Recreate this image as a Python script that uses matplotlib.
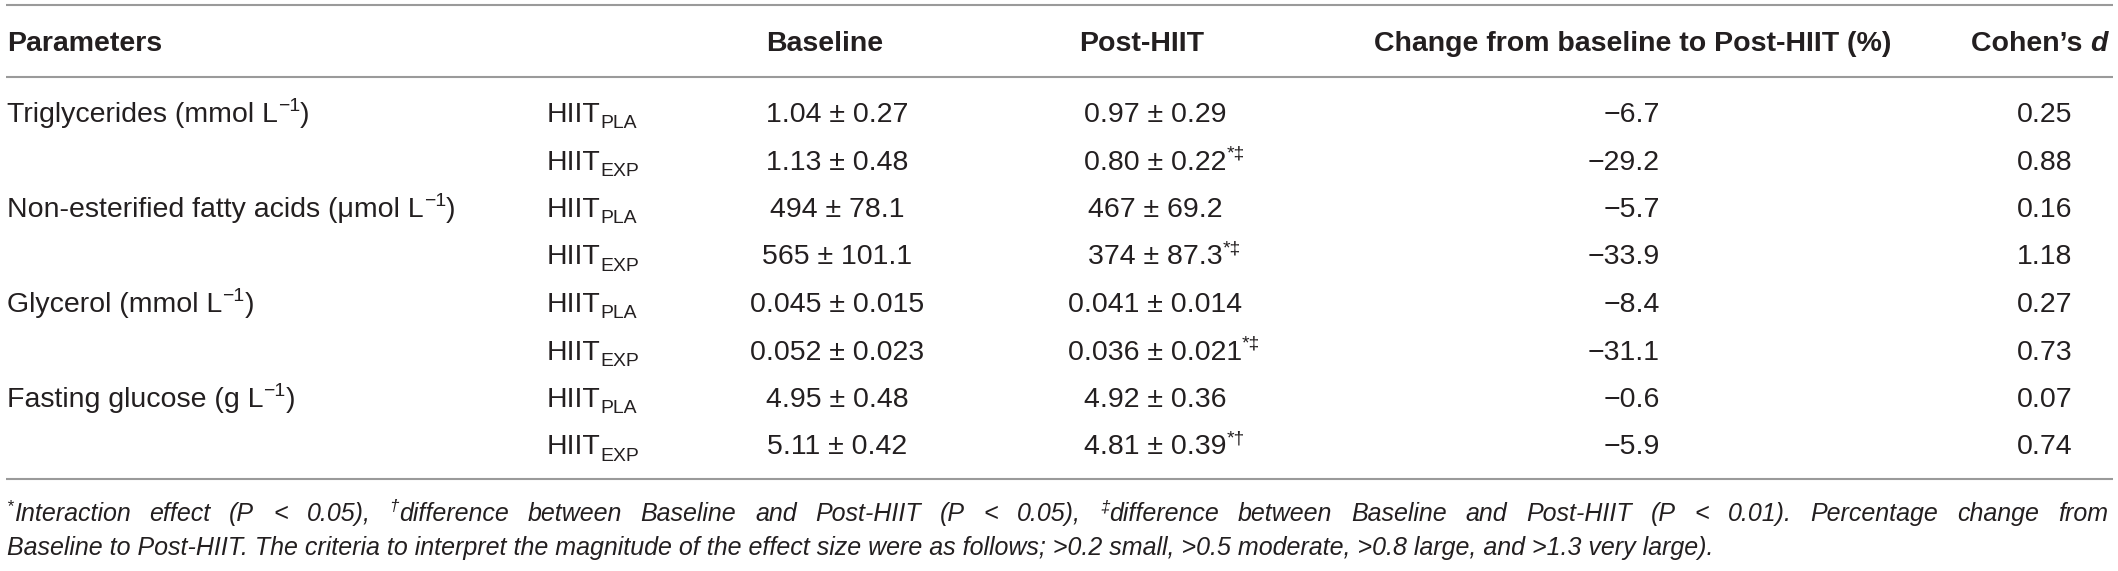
import matplotlib
matplotlib.use("Agg")
import matplotlib.pyplot as plt

# table content
params = ["Triglycerides (mmol L", "Non-esterified fatty acids (\u03bcmol L",
          "Glycerol (mmol L", "Fasting glucose (g L"]
groups = ["PLA", "EXP"]
baseline = ["1.04 \u00b1 0.27", "1.13 \u00b1 0.48", "494 \u00b1 78.1", "565 \u00b1 101.1",
            "0.045 \u00b1 0.015", "0.052 \u00b1 0.023", "4.95 \u00b1 0.48", "5.11 \u00b1 0.42"]
post = ["0.97 \u00b1 0.29", "0.80 \u00b1 0.22", "467 \u00b1 69.2", "374 \u00b1 87.3",
        "0.041 \u00b1 0.014", "0.036 \u00b1 0.021", "4.92 \u00b1 0.36", "4.81 \u00b1 0.39"]
post_marks = ["", "*\u2021", "", "*\u2021", "", "*\u2021", "", "*\u2020"]
change = [-6.7, -29.2, -5.7, -33.9, -8.4, -31.1, -0.6, -5.9]
cohen = [0.25, 0.88, 0.16, 1.18, 0.27, 0.73, 0.07, 0.74]
headers = ["Parameters", "Baseline", "Post-HIIT", "Change from baseline to Post-HIIT (%)"]

foot1 = [[("*", "sup"), ("Interaction", "n")], "effect", "(P", "<", "0.05),",
         [("\u2020", "sup"), ("difference", "n")], "between", "Baseline", "and", "Post-HIIT",
         "(P", "<", "0.05),", [("\u2021", "sup"), ("difference", "n")], "between", "Baseline",
         "and", "Post-HIIT", "(P", "<", "0.01).", "Percentage", "change", "from"]
foot2 = ("Baseline to Post-HIIT. The criteria to interpret the magnitude of the effect size "
         "were as follows; >0.2 small, >0.5 moderate, >0.8 large, and >1.3 very large).")

W, H = 2118, 571
FONT = "Liberation Sans"
COL = "#231f20"
FS = 20.5
FS_FOOT = 18

fig = plt.figure(figsize=(W / 100, H / 100), dpi=100)
ax = fig.add_axes([0, 0, 1, 1])
ax.set_xlim(0, W)
ax.set_ylim(H, 0)
ax.axis("off")
renderer = fig.canvas.get_renderer()


def draw_runs(x, y, parts, size, ha="left", weight="normal", style="normal", anchor=None):
    px = size * 100 / 72
    arts = []
    for p in parts:
        text, kind = p[0], p[1]
        st = p[2] if len(p) > 2 else style
        s = size if kind == "n" else size * 0.68
        dy = 0 if kind == "n" else (-px * 0.38 if kind == "sup" else px * 0.22)
        t = ax.text(0, y + dy, text, fontsize=s, family=FONT, color=COL,
                    weight=weight, style=st, va="baseline", ha="left")
        w = t.get_window_extent(renderer=renderer).width
        arts.append((t, w))
    total = sum(w for _, w in arts)
    aw = total if anchor is None else sum(w for _, w in arts[:anchor])
    if ha == "center":
        cur = x - aw / 2
    elif ha == "right":
        cur = x - aw
    else:
        cur = x
    for t, w in arts:
        t.set_x(cur)
        cur += w
    return arts, total


# rules
for yl in [5, 77, 479]:
    ax.plot([6, 2113], [yl, yl], color="#9a9a9a", lw=1.5, solid_capstyle="butt")

# header
hb = 51
draw_runs(7, hb, [(headers[0], "n")], FS, weight="bold")
draw_runs(825, hb, [(headers[1], "n")], FS, ha="center", weight="bold")
draw_runs(1142, hb, [(headers[2], "n")], FS, ha="center", weight="bold")
draw_runs(1891, hb, [(headers[3], "n")], FS, ha="right", weight="bold")
draw_runs(2108, hb, [("Cohen\u2019s ", "n"), ("d", "n", "italic")], FS, ha="right",
          weight="bold")

# body
row0, step = 112, 47.5
for i in range(8):
    yb = row0 + step * i + 10
    if i % 2 == 0:
        draw_runs(7, yb, [(params[i // 2], "n"), ("\u22121", "sup"), (")", "n")], FS)
    draw_runs(547, yb, [("HIIT", "n"), (groups[i % 2], "sub")], FS)
    draw_runs(837, yb, [(baseline[i], "n")], FS, ha="center")
    parts = [(post[i], "n")]
    if post_marks[i]:
        parts.append((post_marks[i], "sup"))
    draw_runs(1155, yb, parts, FS, ha="center", anchor=1)
    draw_runs(1660, yb, [(f"{change[i]:.1f}".replace("-", "\u2212"), "n")], FS, ha="right")
    draw_runs(2072, yb, [(f"{cohen[i]:.2f}", "n")], FS, ha="right")

# footnote line 1, justified
x0, x1 = 7, 2108
fy1, fy2 = 521, 555
word_parts = [w if isinstance(w, list) else [(w, "n")] for w in foot1]
widths = []
for wp in word_parts:
    arts, w = draw_runs(0, -100, wp, FS_FOOT, style="italic")
    widths.append(w)
    for a, _ in arts:
        a.remove()
gap = (x1 - x0 - sum(widths)) / (len(widths) - 1)
cur = x0
for wp, w in zip(word_parts, widths):
    draw_runs(cur, fy1, wp, FS_FOOT, style="italic")
    cur += w + gap

ax.text(x0, fy2, foot2, fontsize=FS_FOOT, family=FONT, color=COL, style="italic",
        va="baseline", ha="left")

fig.savefig("out.png", dpi=100)
